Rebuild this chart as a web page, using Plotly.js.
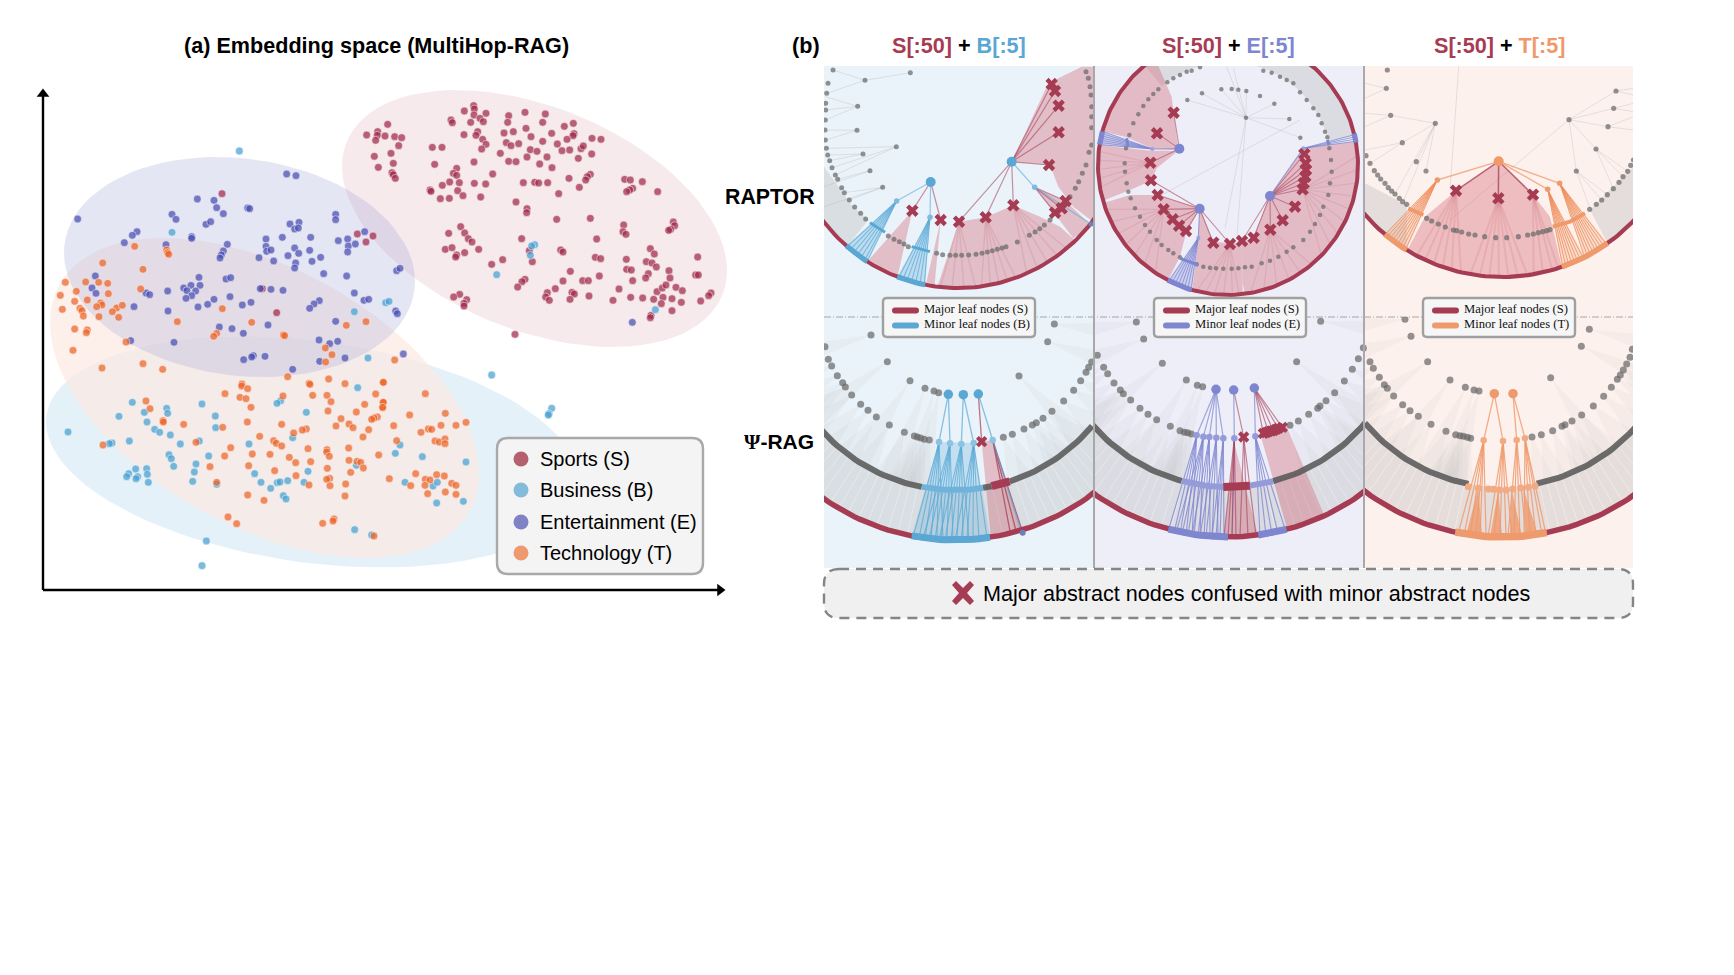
<!DOCTYPE html>
<html><head><meta charset="utf-8">
<script src="https://cdn.plot.ly/plotly-3.0.1.min.js"></script>
<style>html,body{margin:0;padding:0;background:#fff}</style></head>
<body><div id="chart" style="width:1734px;height:975px"></div>
<script>
const C=(ox,oy,a)=>a.map(([x,y])=>[ox+x/3,oy+y/3]);

// ---------- (a) scatter ----------
const sportsPts=[...C(330,70,[[173,163],[110,195],[143,185],[142,196],[165,198],[194,200],[215,203],[137,211],[206,227],[183,250],[133,259],[190,280],[145,292],[186,308],[190,314],[196,325],
[403,123],[431,107],[433,117],[432,135],[468,130],[450,145],[460,155],[422,157],[363,150],[367,158],[402,194],[443,185],[438,196],[458,208],[468,223],[455,237],[307,232],[336,232],[432,276],[314,283],[380,295],[370,310],[380,316],[488,312],[359,336],[337,346],[388,338],[433,340],[467,342],[300,360],[303,364],[383,362],[399,377],[331,386],[358,385],[452,381],
[536,137],[585,127],[646,132],[533,157],[638,157],[588,175],[703,169],[730,160],[522,189],[550,185],[603,200],[665,190],[732,191],[729,197],[711,208],[786,205],[813,208],[529,218],[543,227],[566,221],[638,214],[682,222],[601,239],[621,244],[696,242],[719,240],[753,236],[760,228],[511,250],[591,261],[651,261],[785,252],[745,265],[536,274],[558,275],[629,282],[666,293],[580,338],[614,337],[626,339],[653,338],[717,325],[781,313],[772,320],[767,330],[748,352],[686,371],[558,396],[591,416],[590,428],
[884,328],[901,330],[937,335],[908,355],[899,360],[890,365],[983,365],[680,448],[781,445],[881,465],[879,485],[888,493],[1030,456],[1034,467],[1022,478],[1016,481],[800,507],
[392,470],[356,490],[404,489],[415,506],[426,516],[346,538],[366,533],[446,538],[404,548],[380,555],[377,561],[575,506],[598,542],[607,575],[518,569],[485,583],[692,540],[699,546],[796,562],[812,566],[961,536],[973,552],[889,568],[949,575],[966,579],[979,591],[890,598],[904,600],[1017,602],[955,611],[947,624],[1020,624],[908,632],[1103,561],[1097,615],[1105,615],[721,604],[699,633],[758,632],[775,632],[808,618],[585,628],[576,635],[563,651],[676,656],[652,668],[647,681],[658,691],[726,667],[733,672],[720,688],[777,678],[867,657],[849,691],[902,682],[938,684],[971,688],[981,665],[997,654],[1008,645],[1038,652],[1057,662],[999,682],[1026,686],[1054,697],[994,701],[1026,722],[1143,669],[1136,677],[1112,693],[963,736],[961,743],[389,673],[371,681],[410,689],[402,700],[402,708],[555,793],[82,492],[129,498],[108,516]]),
...C(0,20,[[666,521],[787,806],[830,878]])];
const businessPts=[...C(330,70,[[614,524],[605,528],[601,556],[500,614],[976,719]]),
...C(0,20,[[718,393],[516,637],[1063,875],[1157,848],[1167,844]]),
...C(0,320,[[1104,114],[1073,203],[842,242],[831,250],[397,247],[606,252],[919,277],[500,265],[503,280],[433,277],[357,289],[646,288],[441,306],[647,323],[464,328],[479,337],[511,345],[204,336],[878,353],[598,363],[388,363],[336,369],[328,371],[541,372],[747,372],[1186,400],[1200,375],[507,404],[514,416],[626,408],[521,439],[588,432],[407,447],[440,446],[583,456],[442,463],[386,461],[380,470],[413,470],[408,476],[764,461],[924,454],[578,484],[445,487],[650,493],[783,487],[832,488],[840,486],[863,482],[912,487],[812,505],[850,527],[858,537],[1069,436],[1064,629],[1115,645],[619,663],[606,737]]),
...C(380,360,[[335,45],[515,145],[507,161],[505,165],[127,290],[258,306],[75,367],[159,378],[172,367],[170,429],[250,424]])];
const entertainmentPts=[...C(0,20,[[860,462],[888,467],[592,537],[642,541],[650,563],[670,581],[743,564],[749,566],[516,583],[528,598],[233,597],[618,613],[632,605],[870,612],[897,607],[884,627],[895,624],[1007,583],[1007,599],[411,635],[397,646],[373,668],[575,650],[575,655],[847,652],[798,657],[932,652],[1015,662],[1043,657],[1045,678],[1066,672],[1043,696],[498,674],[682,673],[798,679],[800,694],[813,690],[670,693],[664,705],[660,714],[884,684],[929,691],[896,700],[864,707],[777,713],[821,723],[936,724],[962,712],[887,729],[884,744],[971,761],[286,768],[597,772],[678,777],[692,773],[1040,768],[276,804],[551,804],[573,796],[600,796],[561,812],[587,813],[575,827],[558,835],[288,820],[781,806],[813,808],[849,811],[438,819],[449,824],[503,813],[690,830],[642,838],[623,853],[594,861],[727,855],[753,847],[1063,819],[1092,841],[1106,838],[958,842],[942,852],[929,865],[402,860],[504,873],[1187,873],[1192,881],[1007,904],[804,915],[658,921],[696,926],[730,940],[1190,752],[1200,745]]),
...C(0,320,[[392,62],[522,67],[957,60],[989,71],[1013,64],[731,119],[760,107],[755,111],[795,109],[959,124],[1035,114],[878,148]]),
...C(330,70,[[104,485],[220,852],[907,757]])];
const technologyPts=[...C(0,20,[[308,729],[404,679],[429,748],[500,690],[503,698],[506,703],[196,787],[257,786],[296,787],[323,790],[229,814],[181,826],[325,821],[262,840],[224,844],[422,807],[302,849],[306,855],[290,860],[240,865],[187,868],[246,872],[350,864],[367,856],[337,875],[250,888],[297,890],[356,892],[532,905],[667,866],[755,907],[1039,916],[1098,905],[224,927],[262,930],[259,938],[650,940],[641,949],[850,945],[854,947]]),
...C(0,320,[[219,91],[378,66],[306,144],[429,131],[488,148],[976,84],[996,104],[977,126],[863,170],[1184,120],[986,177],[1035,191],[1150,187],[726,192],[725,198],[743,206],[927,190],[930,193],[675,221],[849,228],[938,226],[981,226],[1127,222],[720,232],[738,236],[993,245],[1149,247],[1094,253],[1148,263],[438,243],[450,266],[753,262],[984,273],[1069,276],[1132,291],[1122,294],[1115,298],[1023,296],[489,302],[490,306],[742,306],[551,313],[845,313],[1047,312],[1059,323],[1008,318],[1181,317],[1106,329],[919,327],[907,330],[668,322],[881,339],[779,349],[1089,351],[1190,362],[821,362],[829,370],[845,378],[588,367],[692,383],[924,386],[981,389],[980,396],[1046,384],[757,402],[810,403],[1136,405],[988,409],[868,412],[674,408],[887,428],[932,425],[1047,421],[1071,424],[1082,427],[746,437],[630,440],[1090,444],[982,445],[824,452],[1052,457],[888,467],[1168,476],[989,475],[980,478],[650,487],[927,495],[990,497],[1037,492],[1035,528],[743,525],[792,541],[684,591],[710,611],[968,610],[1002,597],[999,603],[1122,648],[309,375]]),
...C(380,360,[[10,67],[136,101],[10,127],[8,142],[89,165],[196,160],[183,196],[228,196],[258,187],[145,207],[155,208],[123,217],[165,243],[178,246],[195,237],[195,251],[107,341],[193,348],[170,344],[136,358],[150,360],[135,376],[92,377],[215,370],[228,376],[143,401],[196,396],[228,403]])];

const catNames=['Sports (S)','Business (B)','Entertainment (E)','Technology (T)'];
const catPts=[sportsPts,businessPts,entertainmentPts,technologyPts];
const catDot=['rgba(160,40,72,.72)','rgba(70,160,208,.72)','rgba(72,78,178,.72)','rgba(236,100,40,.72)'];
const catLegend=['#b5606f','#85bbda','#7f83c6','#ee9a6e'];
// ellipse: centre x, centre y, sd x, sd y, correlation
const ellCx=[534.5,312.5,239.5,264.5],ellCy=[218.5,452,267,398],ellSx=[192.5,266.5,175.5,214.5],ellSy=[128.5,115.5,110,160],ellRho=[.405,.26,.13,.47];
const ellFill=['rgba(170,50,80,.1)','rgba(80,160,210,.15)','rgba(150,155,210,.25)','rgba(252,234,226,.7)'];
const ellOrder=[1,3,0,2];

// ---------- (b) colours ----------
const RED='#a63c53',PINK='rgba(205,70,85,.3)',PRAY='rgba(185,55,75,.12)',GN='rgba(105,105,105,.72)',GL='rgba(175,175,175,.3)',GB='rgba(190,190,190,.38)',GW='rgba(185,185,185,.1)';
const BLU='#5aa7d3',VIO='#7e86cf',ORA='#ef9a6c';
const panelBg=['#eaf3f9','#edeef8','#fdf1ed','#eaf3f9','#edeef8','#fdf1ed'];
const panelX=[[824,1094],[1094,1364],[1364,1633]],panelY=[[66,317],[317,568]];

const traces=[];
const shapes=[],ann=[];
const toXY=p=>({x:p.map(a=>a?a[0]:null),y:p.map(a=>a?a[1]:null)});
function poly(s,p,fill){traces.push({...toXY(p),xaxis:'x'+s,yaxis:'y'+s,mode:'lines',fill:'toself',fillcolor:fill,line:{width:0},hoverinfo:'skip'});}
function line(s,p,color,w){traces.push({...toXY(p),xaxis:'x'+s,yaxis:'y'+s,mode:'lines',line:{color,width:w},hoverinfo:'skip',connectgaps:false});}
function nodes(s,p,color,size,sym){traces.push({...toXY(p),xaxis:'x'+s,yaxis:'y'+s,mode:'markers',marker:{color,size,symbol:sym||'circle',line:{width:0}},hoverinfo:'skip'});}
const polar=(c,R,t)=>[c[0]+R*Math.sin(t*Math.PI/180),c[1]+R*Math.cos(t*Math.PI/180)];
function arc(c,R,a,b){const n=Math.max(2,Math.ceil(Math.abs(b-a)/1.5));const o=[];for(let i=0;i<=n;i++)o.push(polar(c,R,a+(b-a)*i/n));return o;}
function star(parent,kids){const o=[];kids.forEach(k=>{o.push(parent,k,null)});return o;}
function rays(c,R,parent,angles){return star(parent,angles.map(t=>polar(c,R,t)));}

// ---------- left ----------
ellOrder.forEach(i=>{const o=[];for(let k=0;k<=90;k++){const t=k/90*2*Math.PI;o.push([ellCx[i]+ellSx[i]*Math.cos(t),ellCy[i]+ellSy[i]*(ellRho[i]*Math.cos(t)+Math.sqrt(1-ellRho[i]**2)*Math.sin(t))]);}
 poly('',o,ellFill[i]);});
catPts.forEach((p,i)=>traces.push({...toXY(p),xaxis:'x',yaxis:'y',mode:'markers',marker:{color:catDot[i],size:7.8,line:{color:'rgba(255,255,255,.85)',width:.6}},hoverinfo:'skip'}));
const axisArrowX=[43,720],axisArrowY=[590,94];
line('',[[43,590],[axisArrowX[1],590]],'#000',2.4);
line('',[[43,590],[43,axisArrowY[1]]],'#000',2.4);
nodes('',[[axisArrowX[1],590]],'#000',11,'triangle-right');
nodes('',[[43,axisArrowY[1]]],'#000',11,'triangle-up');

// ---------- panel 1: RAPTOR + B ----------
{const s=2,c=[958,119],Ro=169,Ri=136,K=a=>C(720,20,a);
poly(s,K([[312,440],[395,555],[445,600],[380,680],[312,610]]),GB);
line(s,[...star(K([[435,181]])[0],K([[339,150],[320,220],[571,158]])),...star(K([[413,259]])[0],K([[316,230],[317,270],[316,300]])),...star(K([[411,331]])[0],K([[316,330],[316,360]])),...star(K([[529,380]])[0],K([[319,385],[336,443],[345,465]])),...star(K([[429,402]])[0],K([[323,405],[329,422]])),...star(K([[450,452]])[0],K([[312,500],[353,478]])),...star(K([[488,502]])[0],K([[312,560],[373,518],[388,540]]))],GL,1);
poly(s,[...K([[577,572]]),...arc(c,Ro,-32.5,-21)],PINK);
poly(s,[...K([[662,600]]),...arc(c,Ro,-11,-8)],PINK);
poly(s,[...K([[717,605],[797,592],[880,556],[960,590],[1020,620],[1060,655]]),...arc(c,Ro,44,-7)],PINK);
poly(s,K([[875,425],[985,190],[1085,140],[1125,140],[1125,610],[1060,560],[1015,500],[990,435]]),PINK);
poly(s,K([[945,503],[1060,655],[1112,615],[1037,543]]),PINK);
const p1=K([[717,605],[797,592],[880,556]]);
line(s,[...rays(c,Ro,p1[0],[-6,-2,2,6]),...rays(c,Ro,p1[1],[8,11,14,17,20]),...rays(c,Ro,p1[2],[24,28,32,36,40])],PRAY,1.5);
poly(s,[...K([[530,543]]),...arc(c,Ro,-41.4,-32.5)],'rgba(90,170,215,.3)');
poly(s,[...K([[630,592]]),...arc(c,Ro,-21,-11.2)],'rgba(90,170,215,.3)');
line(s,[...rays(c,Ro,K([[530,543]])[0],[-41,-39.5,-38,-36.5,-35,-33.5,-32.5]),...rays(c,Ro,K([[630,592]])[0],[-20.5,-19,-17.5,-16,-14.5,-13,-11.5])],'rgba(90,170,215,.7)',1.1);
line(s,star(K([[632,486]])[0],K([[577,572],[662,600]])),'rgba(166,60,83,.55)',1.2);
line(s,star(K([[632,486]])[0],K([[530,543],[630,592]])),'rgba(90,170,215,.6)',1.2);
line(s,[...star(K([[875,425]])[0],K([[995,192],[1005,213],[1016,257],[1016,337],[987,435],[880,556],[797,592],[717,605]])),...star(K([[944,502]])[0],K([[1005,578],[1025,565],[1037,543]]))],'rgba(166,60,83,.55)',1.2);
line(s,[...star(K([[875,425]])[0],K([[944,502]])),...star(K([[944,502]])[0],K([[1113,612]]))],'rgba(90,170,215,.6)',1.3);
nodes(s,K([[339,150],[324,190],[320,220],[317,250],[317,270],[316,300],[315,330],[316,360],[319,385],[323,405],[329,422],[336,443],[346,465],[353,478],[365,503],[373,518],[388,540],[404,561],[422,580],[437,597],[505,648],[522,658],[538,665],[552,672],[565,680],[650,700],[668,704],[690,706],[707,706],[725,706],[746,705],[768,703],[786,700],[802,696],[817,692],[832,688],[846,684],[858,680],[892,666],[928,646],[945,636],[959,626],[973,615],[990,600],[1035,555],[1050,530],[1066,505],[1076,485],[1087,460],[1098,435],[1107,397],[1115,375],[1115,323],[1115,290],[1115,260],[1113,225],[1110,200],[1105,175],[1098,155],[435,181],[413,259],[411,331],[529,380],[429,402],[450,452],[488,502],[571,158]]),GN,5);
line(s,K([[450,608],[495,637]]),BLU,3);line(s,K([[575,680],[630,695]]),BLU,3);
line(s,arc(c,Ro,-60,70),RED,4);
line(s,arc(c,Ro,-41.4,-32.5),BLU,5.2);line(s,arc(c,Ro,-21.1,-11.2),BLU,5.2);
nodes(s,K([[1113,612]]),'#6f7fb8',5);
nodes(s,K([[530,543],[630,592],[944,502]]),'#7dbbdf',5.5);
nodes(s,K([[632,486],[875,425]]),BLU,10);
nodes(s,K([[995,192],[1005,213],[1016,257],[1016,337],[987,435],[1037,543],[1025,565],[1005,578],[880,556],[797,592],[717,605],[662,600],[577,572]]),RED,11,'x');
}
// ---------- panel 2: RAPTOR + E ----------
{const s=3,c=[1228,165],Ro=130,Ri=103,K=a=>C(1090,20,a);
poly(s,[...arc(c,Ro,103,180),...arc(c,Ri,180,103)],GB);
poly(s,[...arc(c,Ro,-180,-140),...arc(c,Ri,-140,-180)],GB);
const root=K([[468,293]])[0];
line(s,[...star(root,K([[292,240],[336,220],[394,208],[469,213],[553,251],[598,297],[631,353],[405,625],[440,660],[430,145],[410,140]])),...star(K([[210,528]])[0],K([[630,300]]))],GL,1);
poly(s,[...K([[265,390],[245,230],[205,138]]),...arc(c,Ro,-140,-105),...K([[110,352],[190,387]])],PINK);
poly(s,[...arc(c,Ro,-99,-74),...K([[120,510],[183,482],[200,445],[265,392],[185,392],[110,385]])],PINK);
poly(s,[...K([[203,525],[330,565],[288,640],[270,710]]),...arc(c,Ro,-27.6,-73),...K([[120,525]])],PINK);
poly(s,[...K([[330,565],[370,665],[420,670],[455,670]]),...arc(c,Ro,6.5,-16),...K([[320,700]])],PINK);
poly(s,[...K([[458,790],[455,670],[490,650],[540,525],[640,385]]),...arc(c,Ro,100.5,7.5)],PINK);
const pp=K([[181,428],[221,568],[420,672],[541,629],[638,508]]);
line(s,[...rays(c,Ro,pp[0],[-96,-92,-88,-84,-80]),...rays(c,Ro,pp[1],[-70,-64,-58,-52,-46,-40,-34]),...rays(c,Ro,pp[2],[-14,-10,-6,-2,2,5]),...rays(c,Ro,pp[3],[10,16,22,28,34,40]),...rays(c,Ro,pp[4],[46,52,58,64,70,76,82,88,94])],PRAY,1.3);
poly(s,[...K([[187,387]]),...arc(c,Ro,-105,-99)],'rgba(126,134,207,.3)');
poly(s,[...K([[325,653]]),...arc(c,Ro,-27.6,-16.2)],'rgba(126,134,207,.3)');
line(s,[...rays(c,Ro,K([[187,387]])[0],[-105,-104,-103,-102,-101,-100,-99]),...rays(c,Ro,K([[325,653]])[0],[-27,-25.5,-24,-22.5,-21,-19.5,-18,-16.5]),...rays(c,Ro,K([[640,385]])[0],[100.5,101.5,102.5,103.5])],'rgba(126,134,207,.75)',1);
line(s,[...star(K([[268,386]])[0],K([[251,278],[201,340],[181,428]])),...star(K([[329,566]])[0],K([[183,481],[203,525],[221,568],[248,598],[267,617],[288,633],[370,668],[420,672]])),...star(K([[540,528]])[0],K([[456,663],[491,653],[541,629],[578,601],[615,560],[638,508],[641,490],[646,470],[648,450],[647,430],[643,402]]))],'rgba(166,60,83,.55)',1.1);
line(s,[...star(K([[268,386]])[0],K([[187,387]])),...star(K([[329,566]])[0],K([[325,653]])),...star(K([[540,528]])[0],K([[640,385]]))],'rgba(126,134,207,.7)',1.2);
nodes(s,K([[232,187],[250,175],[270,165],[290,155],[305,152],[330,142],[520,152],[545,158],[570,170],[590,180],[610,190],[630,217],[650,240],[670,265],[685,285],[695,310],[705,335],[712,352],[205,208],[190,222],[175,238],[160,258],[145,283],[130,310],[118,345],[108,385],[104,430],[105,455],[110,490],[115,515],[122,535],[135,565],[150,590],[165,615],[180,635],[200,660],[215,675],[235,690],[250,700],[270,712],[320,733],[340,740],[360,743],[378,745],[400,746],[425,746],[445,745],[465,742],[485,740],[515,730],[540,722],[565,710],[590,695],[610,682],[640,660],[660,635],[675,612],[690,585],[700,560],[715,525],[720,490],[725,455],[723,420],[718,385],[336,220],[292,240],[394,208],[425,207],[445,209],[469,213],[510,228],[553,251],[468,293],[598,297],[631,353]]),GN,4.5);
line(s,arc(c,Ro,-180,180),RED,4);
[[-105,-99],[-27.6,-16.2],[100,104]].forEach(a=>line(s,arc(c,Ro,a[0],a[1]),VIO,5.2));
line(s,K([[110,355],[114,380]]),VIO,3);line(s,K([[712,360],[717,375]]),VIO,3);line(s,K([[270,715],[325,735]]),VIO,3);
nodes(s,K([[187,387],[325,653],[640,385]]),'#9aa0dc',4);
nodes(s,K([[268,386],[329,566],[540,528]]),VIO,10);
nodes(s,K([[251,278],[201,340],[181,428],[183,481],[203,525],[221,568],[248,598],[267,617],[288,633],[370,668],[420,672],[456,663],[491,653],[541,629],[578,601],[615,560],[638,508],[641,490],[646,470],[648,450],[647,430],[643,402]]),RED,11,'x');
}
// ---------- panel 3: RAPTOR + T ----------
{const s=4,c=[1502,95],Ro=182,Ri=144,K=a=>C(1360,20,a);
poly(s,[...K([[15,490],[140,555]]),...arc(c,Ro,-31.6,-40),...K([[15,590]])],GB);
poly(s,[...K([[690,570],[820,440]]),...K([[820,600]]),...arc(c,Ro,35.5,35.5)],GB);
line(s,[...star(K([[627,299]])[0],K([[768,213],[761,265],[744,320],[708,387],[649,453],[270,600]])),...star(K([[296,140]])[0],K([[270,510]])),...star(K([[226,310]])[0],K([[92,286],[127,368],[169,425],[198,453],[130,545],[105,522]])),...star(K([[92,286]])[0],K([[15,280],[15,320]])),...star(K([[79,205]])[0],K([[15,190],[15,235]])),...star(K([[127,368]])[0],K([[15,390],[30,430]])),...star(K([[649,453]])[0],K([[725,540],[690,565],[742,524]])),...star(K([[708,387]])[0],K([[789,470],[760,506],[803,454]])),...star(K([[744,320]])[0],K([[820,290],[820,330]])),...star(K([[761,265]])[0],K([[820,250],[820,275]])),...star(K([[768,213]])[0],K([[820,205],[820,225]]))],GL,1);
poly(s,[...K([[145,685],[195,590],[288,512],[416,424],[519,524],[570,590]]),...arc(c,Ro,19.2,-31)],PINK);
const xs=K([[288,512],[415,535],[519,524]]);
line(s,[...rays(c,Ro,xs[0],[-28,-25,-22,-19,-16,-13]),...rays(c,Ro,xs[1],[-10,-7,-4,-1,2,5,8]),...rays(c,Ro,xs[2],[10,13,16,18])],PRAY,2);
const ofill='rgba(239,154,108,.25)',oray='rgba(239,140,90,.8)';
poly(s,[...K([[232,480]]),...arc(c,Ro,-40,-31.6)],ofill);
poly(s,[...K([[563,508]]),...arc(c,Ro,19.2,27)],ofill);
poly(s,[...K([[599,490]]),...arc(c,Ro,27,35.5)],ofill);
line(s,[...rays(c,Ro,K([[232,480]])[0],[-40,-39,-38,-37,-36,-35,-34,-33,-32]),...rays(c,Ro,K([[563,508]])[0],[19.5,20.5,21.5,22.5,23.5,24.5,25.5,26.5]),...rays(c,Ro,K([[599,490]])[0],[27,28,29,30,31,32,33,34,35])],oray,1);
line(s,star(K([[416,424]])[0],K([[288,512],[415,535],[519,524]])),'rgba(166,60,83,.75)',1.5);
line(s,star(K([[416,424]])[0],K([[232,480],[563,508],[599,490]])),'rgba(239,154,108,.75)',1.4);
nodes(s,K([[82,150],[79,205],[92,286],[226,310],[127,368],[18,407],[30,430],[169,425],[198,453],[43,452],[53,465],[62,477],[75,490],[85,503],[95,513],[105,522],[118,535],[128,545],[140,553],[200,595],[215,603],[235,612],[256,621],[280,630],[290,632],[305,636],[326,642],[345,645],[374,650],[407,653],[440,653],[475,650],[503,645],[520,642],[535,638],[548,635],[560,632],[570,629],[689,568],[709,553],[725,540],[742,524],[760,506],[777,487],[789,470],[803,454],[812,436],[820,420],[627,299],[768,213],[761,265],[744,320],[708,387],[649,453]]),GN,5.2);
line(s,K([[145,565],[190,585]]),ORA,4);line(s,K([[578,620],[630,605],[675,580]]),ORA,4);
line(s,arc(c,Ro,-50,50),RED,4.2);
line(s,arc(c,Ro,-40.1,-31.6),ORA,5.5);line(s,arc(c,Ro,19.2,35.5),ORA,5.5);
nodes(s,K([[232,480],[563,508],[599,490]]),ORA,5.5);
nodes(s,K([[416,424]]),ORA,10);
nodes(s,K([[288,512],[415,535],[519,524]]),RED,11,'x');
}
// ---------- bottom panels (Psi-RAG) ----------
function grayWedges(s,c,pts,Ri){pts.forEach(p=>{const t=Math.atan2(p[0]-c[0],p[1]-c[1])*180/Math.PI;poly(s,[p,...arc(c,Ri,t-4,t+4)],GW);});}
const bandStripes=[-43,-41,-38.5,-36,-33,-30.5,-28,-25,-22.5,-20,-17,-14.5,-12,12,14.5,17,19.5,22,24.5,27,29.5,32,35,37.5,40,42.5];
function stripes(s,c,Ri,Ro,col){const o=[];bandStripes.forEach(t=>{o.push(polar(c,Ri+3,t),polar(c,Ro-3,t),null)});line(s,o,col,.8);}
const innerGray='rgba(85,85,85,.85)';
{const s=5,c=[955,311],Ro=229,Ri=179,K=a=>C(720,310,a);
const g=K([[570,212],[615,235],[642,243],[656,248],[897,198],[502,155],[453,75],[325,148],[335,168],[352,197],[368,218],[376,231],[395,255],[422,283],[444,301],[469,321],[508,345],[553,367],[583,378],[592,381],[602,384],[613,388],[628,390],[850,382],[877,373],[912,357],[937,345],[949,338],[969,325],[996,304],[1031,273],[1061,241],[1082,212],[1098,187],[1106,172],[1115,156],[1130,135],[983,95],[1003,42],[315,110]]);
grayWedges(s,c,g,Ri);
poly(s,[...arc(c,Ro,-60,60),...arc(c,Ri,60,-60)],GB);stripes(s,c,Ri,Ro,'rgba(234,243,249,.7)');
poly(s,[...K([[785,395],[818,390]]),...arc(c,Ro,16.9,9)],PINK);
const kids=K([[657,396],[690,400],[724,402],[761,399]]);
poly(s,[kids[0],kids[3],...arc(c,Ro,8.8,-10.9)],'rgba(90,170,215,.28)');
line(s,[...rays(c,Ro,kids[0],[-10.5,-9,-7.5,-6,-4.5,-3]),...rays(c,Ro,kids[1],[-8,-6.5,-5,-3.5,-2,-.5]),...rays(c,Ro,kids[2],[-4,-2.5,-1,.5,2,3.5]),...rays(c,Ro,kids[3],[0,1.5,3,4.5,6,8])],'rgba(90,170,215,.75)',1.1);
line(s,[...rays(c,Ro,K([[818,390]])[0],[14,15.5,17])],'rgba(166,60,83,.75)',1.3);
line(s,star(K([[775,252]])[0],K([[785,395]])),'rgba(166,60,83,.7)',1.3);
line(s,[...star(K([[685,253]])[0],K([[657,396],[690,400]])),...star(K([[730,254]])[0],K([[724,402],[761,399]])),...star(K([[775,252]])[0],K([[818,390]])),...star(K([[818,390]])[0],K([[905,670]]))],'rgba(90,170,215,.7)',1.3);
line(s,arc(c,Ri,-50,-10.7),innerGray,6);line(s,arc(c,Ri,9,11.8),innerGray,6);line(s,arc(c,Ri,17.8,50),innerGray,6);
line(s,arc(c,Ri,-10.7,9),'#70b2da',6);line(s,arc(c,Ri,11.8,17.8),RED,8);
nodes(s,g,GN,7);
line(s,arc(c,Ro,-50,50),RED,5.5);line(s,arc(c,Ro,-10.9,8.8),BLU,7);
nodes(s,K([[908,668]]),'#6f7fb8',6);
nodes(s,kids.concat(K([[818,390]])),'#8cc3e2',6.5);
nodes(s,K([[685,253],[730,254],[775,252]]),BLU,9.5);
nodes(s,K([[785,395]]),RED,10,'x');
}
{const s=6,c=[1228,308],Ro=229,Ri=179,K=a=>C(1090,310,a);
const g=K([[139,36],[161,87],[22,136],[5,155],[41,172],[53,191],[72,219],[91,240],[100,251],[122,270],[150,295],[174,313],[200,329],[241,349],[270,362],[283,367],[293,368],[304,372],[217,160],[289,210],[322,226],[338,230],[620,155],[600,346],[625,333],[656,313],[683,295],[690,288],[708,272],[734,248],[763,213],[787,178],[805,146],[820,113],[692,34]]);
grayWedges(s,c,g,Ri);
poly(s,[...arc(c,Ro,-60,60),...arc(c,Ri,60,-60)],GB);stripes(s,c,Ri,Ro,'rgba(237,238,248,.7)');
poly(s,[...K([[510,370],[590,350],[700,610]]),...arc(c,Ro,24.6,15)],PINK);
poly(s,[...K([[433,400]]),...arc(c,Ro,7.5,-1)],PINK);
const kids=K([[320,376],[340,380],[358,381],[379,383],[400,385]]),r=K([[496,379]])[0],mid=K([[433,385]])[0],xn=K([[461,381]])[0];
line(s,[...rays(c,Ro,kids[0],[-15,-13.5,-12,-10.5,-9]),...rays(c,Ro,kids[1],[-13,-11.5,-10,-8.5,-7]),...rays(c,Ro,kids[2],[-9,-7.5,-6,-4.5]),...rays(c,Ro,kids[3],[-7,-5.5,-4,-2.5]),...rays(c,Ro,kids[4],[-4,-3,-2,-1]),...rays(c,Ro,r,[8,9.5,11,12.5,14.5]),...rays(c,Ro,mid,[1])],'rgba(126,134,207,.8)',1.1);
line(s,[...rays(c,Ro,mid,[-1,0,1,2]),...rays(c,Ro,xn,[3,5,7]),...star(K([[431,240]])[0],[xn]),...star(K([[493,234]])[0],K([[520,370],[535,365],[550,362],[565,355],[577,352]]))],'rgba(166,60,83,.6)',1.2);
line(s,[...star(K([[378,238]])[0],kids),...star(K([[431,240]])[0],[mid]),...star(K([[493,234]])[0],[r])],'rgba(126,134,207,.7)',1.2);
line(s,arc(c,Ri,-50,-15),innerGray,6);line(s,arc(c,Ri,14.6,50),innerGray,6);
line(s,arc(c,Ri,-15,-1.5),'#959bda',6);line(s,arc(c,Ri,7,14.6),'#959bda',6);line(s,arc(c,Ri,-1.5,7),RED,8);
nodes(s,g,GN,7);
line(s,arc(c,Ro,-50,50),RED,5.5);line(s,arc(c,Ro,-15.1,0),VIO,7);line(s,arc(c,Ro,7.6,14.8),VIO,7);
nodes(s,[...kids,r,mid],'#959bda',6.5);
nodes(s,K([[378,238],[431,240],[493,234]]),VIO,9.5);
nodes(s,K([[461,381],[520,370],[528,368],[535,365],[543,363],[550,362],[558,358],[565,355],[577,352]]),RED,10,'x');
}
{const s=7,c=[1502,308],Ro=229,Ri=179,K=a=>C(1360,310,a);
const g=K([[135,28],[153,79],[10,115],[30,155],[40,175],[58,202],[73,224],[82,235],[101,258],[128,284],[150,302],[175,319],[213,343],[258,364],[287,374],[300,377],[310,379],[322,382],[332,385],[203,155],[270,210],[316,232],[342,240],[357,243],[516,381],[544,374],[578,362],[606,349],[615,344],[636,333],[665,315],[700,288],[731,259],[754,232],[772,208],[781,195],[790,180],[800,162],[810,142],[817,118],[688,58],[664,109],[572,203]]);
grayWedges(s,c,g,Ri);
poly(s,[...arc(c,Ro,-60,60),...arc(c,Ri,60,-60)],GB);stripes(s,c,Ri,Ro,'rgba(253,241,237,.7)');
const kids=K([[371,391],[429,393],[470,390],[495,385]]);
poly(s,[...K([[355,535]]),...arc(c,Ro,-5,-9)],'rgba(239,154,108,.8)');
poly(s,[...K([[415,540]]),...arc(c,Ro,0,-3)],'rgba(239,154,108,.8)');
poly(s,[...K([[455,540]]),...arc(c,Ro,5,2)],'rgba(239,154,108,.8)');
poly(s,[...K([[490,535]]),...arc(c,Ro,9,6)],'rgba(239,154,108,.8)');
line(s,[...rays(c,Ro,kids[0],[-11,-9.5,-8,-6.5,-5.5,-4]),...rays(c,Ro,kids[1],[-3.5,-2,-.5,1,2.5]),...rays(c,Ro,kids[2],[1.5,3,4.5,6]),...rays(c,Ro,kids[3],[5.5,7,8.5,10,11])],'rgba(239,154,108,.85)',1.2);
line(s,[...star(K([[403,251]])[0],kids.slice(0,2)),...star(K([[459,251]])[0],kids.slice(2,4))],'rgba(239,154,108,.8)',1.3);
line(s,arc(c,Ri,-50,-10.8),innerGray,6);line(s,arc(c,Ri,11.2,50),innerGray,6);
nodes(s,K([[325,530],[355,535],[385,537],[400,538],[418,540],[438,540],[458,537],[482,534],[505,532],[525,528]]),'#f2aa83',7);
nodes(s,g,GN,7);
line(s,arc(c,Ro,-50,50),RED,5.5);line(s,arc(c,Ro,-11.8,11.3),ORA,7.5);
nodes(s,kids,'#f2aa83',6.5);
nodes(s,K([[403,251],[459,251]]),ORA,9.5);
}

// ---------- overlays ----------
function rr(x0,y0,x1,y1,r){return `M${x0+r},${y0}L${x1-r},${y0}Q${x1},${y0} ${x1},${y0+r}L${x1},${y1-r}Q${x1},${y1} ${x1-r},${y1}L${x0+r},${y1}Q${x0},${y1} ${x0},${y1-r}L${x0},${y0+r}Q${x0},${y0} ${x0+r},${y0}Z`;}
const sh=o=>shapes.push({xref:'x',yref:'y',layer:'above',...o});
const tx=(x,y,text,size,o)=>ann.push({xref:'x',yref:'y',x,y,text,showarrow:false,font:{family:'Liberation Sans, Arial',size,color:'#000'},xanchor:'left',yanchor:'middle',...o});
panelBg.forEach((col,i)=>{const px=panelX[i%3],py=panelY[i<3?0:1];shapes.push({xref:'x',yref:'y',layer:'below',type:'rect',x0:px[0],x1:px[1],y0:py[0],y1:py[1],fillcolor:col,line:{width:0}});});
sh({type:'line',x0:824,x1:1633,y0:317,y1:317,line:{color:'#888',width:.7,dash:'7px,2px,1px,2px'}});
sh({type:'line',x0:1094,x1:1094,y0:66,y1:568,line:{color:'#a8a8a8',width:2}});
sh({type:'line',x0:1364,x1:1364,y0:66,y1:568,line:{color:'#a8a8ae',width:2}});
// (a) legend
sh({type:'path',path:rr(497,438,703,574,11),fillcolor:'#f4f4f4',line:{color:'#a9a9a9',width:2.4}});
catNames.forEach((n,i)=>{const y=[459,490,522,553][i];sh({type:'circle',x0:513.5,x1:528.5,y0:y-7.5,y1:y+7.5,fillcolor:catLegend[i],line:{width:0}});tx(538,y,n,20);});
// mini legends
const miniBoxX=[883,1154,1423],miniCol=[BLU,VIO,ORA],miniLetter=['B','E','T'];
miniBoxX.forEach((x,i)=>{sh({type:'path',path:rr(x,298,x+152,337,4),fillcolor:'#f6f6f6',line:{color:'#a0a0a0',width:2.4}});
 sh({type:'path',path:rr(x+9,307.5,x+36,313.5,3),fillcolor:RED,line:{width:0}});
 sh({type:'path',path:rr(x+9,322.5,x+36,328.5,3),fillcolor:miniCol[i],line:{width:0}});
 const f={font:{family:'Liberation Serif, Times New Roman',size:12.6,color:'#111'}};
 tx(x+39,309,'Major leaf nodes (S)',12.6,f);tx(x+39,324,'Minor leaf nodes ('+miniLetter[i]+')',12.6,f);});
// note box
sh({type:'path',path:rr(824,569,1633,618,15),fillcolor:'#f0f0f0',line:{color:'#858585',width:2.4,dash:'10px,7px'}});
sh({type:'path',path:'M952,585L956,581L963,588L970,581L974,585L967,593L974,601L970,605L963,598L956,605L952,601L959,593Z',fillcolor:RED,line:{width:0}});
tx(981,593,'Major abstract nodes confused with minor abstract nodes',21.6);
// titles
const R1='#a63c53';
tx(376,45,'<b>(a) Embedding space (MultiHop-RAG)</b>',21.6,{xanchor:'center'});
tx(806,45,'<b>(b)</b>',21.6,{xanchor:'center'});
const headCx=[959,1228,1499],headLetter=['B','E','T'],headCol=['#5aa7d3','#7e86cf','#ef9a6c'];
headCx.forEach((x,i)=>tx(x,45,`<b><span style="color:${R1}">S[:50]</span> + <span style="color:${headCol[i]}">${headLetter[i]}[:5]</span></b>`,21.6,{xanchor:'center'}));
tx(817,197,'<b>RAPTOR</b>',21.3,{xanchor:'right'});
tx(816,442,'<b><span style="font-family:Liberation Serif">Ψ</span>-RAG</b>',21,{xanchor:'right'});

const layout={width:1734,height:975,margin:{l:0,r:0,t:0,b:0},paper_bgcolor:'#fff',plot_bgcolor:'rgba(0,0,0,0)',showlegend:false,shapes,annotations:ann,
 xaxis:{domain:[0,1],range:[0,1734],visible:false,fixedrange:true},yaxis:{domain:[0,1],range:[975,0],visible:false,fixedrange:true}};
panelBg.forEach((_,i)=>{const px=panelX[i%3],py=panelY[i<3?0:1],n=i+2;
 layout['xaxis'+n]={domain:[px[0]/1734,px[1]/1734],range:px,visible:false,fixedrange:true,anchor:'y'+n};
 layout['yaxis'+n]={domain:[1-py[1]/975,1-py[0]/975],range:[py[1],py[0]],visible:false,fixedrange:true,anchor:'x'+n};});
Plotly.newPlot('chart',traces,layout,{displayModeBar:false,staticPlot:true});
</script></body></html>
